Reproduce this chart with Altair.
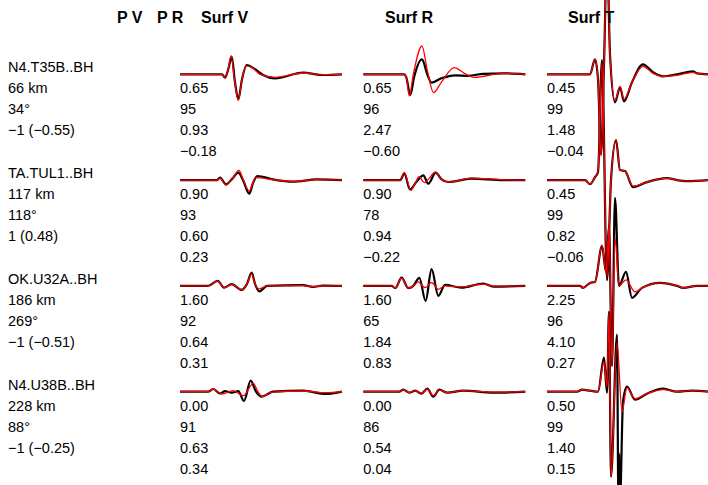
import altair as alt
import pandas as pd

# ---------------- text data ----------------
HEADERS = ["P V", "P R", "Surf V", "Surf R", "Surf T"]
STATIONS = ["N4.T35B..BH", "TA.TUL1..BH", "OK.U32A..BH", "N4.U38B..BH"]
DISTANCES = ["66 km", "117 km", "186 km", "228 km"]
AZIMUTHS = ["34°", "118°", "269°", "88°"]
POLARITIES = ["−1 (−0.55)", "1 (0.48)", "−1 (−0.51)", "−1 (−0.25)"]

# per-window statistics (rows = stations): time shift, cc, amplitude ratio, log amp
SURF_V_SHIFT = [0.65, 0.90, 1.60, 0.00]
SURF_V_CC = [95, 93, 92, 91]
SURF_V_RATIO = [0.93, 0.60, 0.64, 0.63]
SURF_V_LOG = [-0.18, 0.23, 0.31, 0.34]

SURF_R_SHIFT = [0.65, 0.90, 1.60, 0.00]
SURF_R_CC = [96, 78, 65, 86]
SURF_R_RATIO = [2.47, 0.94, 1.84, 0.54]
SURF_R_LOG = [-0.60, -0.22, 0.83, 0.04]

SURF_T_SHIFT = [0.45, 0.45, 2.25, 0.50]
SURF_T_CC = [99, 99, 96, 99]
SURF_T_RATIO = [1.48, 0.82, 4.10, 1.40]
SURF_T_LOG = [-0.04, -0.06, 0.27, 0.15]

# ---------------- waveforms (time, amplitude) ----------------
# station 1
OBS_1_V = [(0,0),(42,0),(45,-3.4),(48,4),(51.7,17.6),(55,-8),(58.3,-25),(62,-5),(66.7,9.3),(75,5),(83,-0.7),(95,-4),(123,1.7),(143,-0.7),(162,0)]
SYN_1_V = [(0,0),(42,0),(45,-3.5),(48,4),(51,18.5),(55,-9),(58.3,-26),(62,-5),(66,8.5),(72,7),(80,0),(95,-3),(123,1.3),(143,-0.3),(162,0)]
OBS_1_R = [(0,0),(41,0),(43,-3),(47,-20.7),(51,-2),(58.7,15),(64,0),(68,-8.3),(78,-4),(92,-1),(105,-1.5),(120,0.5),(140,1),(162,0)]
SYN_1_R = [(0,0),(41,0),(43,-3),(46,-21.7),(50,0),(58.7,28.3),(64,4),(70.3,-18.3),(78,-8),(91,6.6),(101,1),(111,-3),(140,1),(162,0)]
OBS_1_T = [(0,0),(43,0),(48,15),(51,-5),(54,-80),(57,10),(60,120),(63,20),(68,-28),(73,-13),(77,-27),(85,-8),(96,10),(106,2),(116,-2),(130,0),(146,3),(150,1),(161,0)]
SYN_1_T = [(0,0),(43,0),(48,15),(51,-5),(54,-82),(57,10),(60,118),(63,20),(68,-26),(73,-12),(77,-25),(85,-8),(96,8),(106,1),(116,-2),(130,-1),(146,2),(150,1),(161,0)]
# station 2
OBS_2_V = [(0,0),(36.7,0),(40,2.4),(46,-4.3),(52,1),(58.3,7.4),(63,0),(69.3,-13.6),(73,-3),(77.3,4),(93,0.7),(113,-1.6),(137,0.7),(162,0)]
SYN_2_V = [(0,0),(36.7,0),(40,1.7),(46,-5),(52,1),(59,9.7),(63,1),(69.3,-11),(73,-2),(76,2.4),(93,0.5),(113,-1.3),(137,0.5),(162,0)]
OBS_2_R = [(0,0),(37,0),(41,6.7),(46.7,-9.3),(53,-2),(60,4.7),(65,-3.6),(72.4,7.4),(78,1),(85,-1.9),(108,1.4),(140,0),(162,0)]
SYN_2_R = [(0,0),(37,0),(41,7.4),(47.7,-10.3),(52,-3),(55.7,3.4),(61,-2.6),(66,2),(71.7,8),(78,1),(86.7,-1.9),(108,2),(140,0.3),(162,0)]
OBS_2_T = [(0,0),(38,0),(43,-4),(48,3),(51,8),(55,120),(60,-100),(64,0),(69,40),(73,10),(78,9),(86,-7),(100,-2),(120,2),(130,0),(140,-1),(161,0)]
SYN_2_T = [(0,0),(38,0),(43,-4),(48,3),(51,8),(55,118),(60,-98),(64,0),(69,40),(73,10),(78,9),(86,-6),(100,-2),(120,2),(130,0),(140,-1),(161,0)]
# station 3
OBS_3_V = [(0,0),(28,0),(37.7,5),(44,-1.7),(51.7,1.7),(61.7,-4),(67,2),(71.7,13.4),(75,2),(79.3,-5.6),(87,0),(123,0.7),(133,-1),(143,0.3),(162,0)]
SYN_3_V = [(0,0),(28,0),(37.7,4.7),(44,-1.7),(51.7,1.7),(61.7,-4),(67,2),(71.7,11.7),(75,2),(79.3,-3),(87,0),(123,0.3),(133,-0.7),(143,0),(162,0)]
OBS_3_R = [(0,0),(28.3,0),(32,-2.3),(38.3,8.3),(45,-2.3),(50,0),(56,8),(62.3,-15),(68.3,16.7),(75,-10),(81.7,1),(98,-1.7),(120,2.3),(130,-0.7),(162,0)]
SYN_3_R = [(0,0),(28.3,0),(32,-2.3),(38.3,7.7),(45,-2.3),(50,0),(55,4),(61.7,-1.7),(68.3,3.4),(75,-3.4),(81.7,0),(98,-1),(120,1.7),(130,-0.3),(162,0)]
OBS_3_T = [(0,0),(33,0),(36,-2),(43,3),(48,4),(55,40),(59,14),(62,60),(65,-80),(68,88),(72,0),(79,14),(85,-12),(95,-2),(113,3),(130,0),(136,-2),(150,0),(161,0)]
SYN_3_T = [(0,0),(33,0),(36,-2),(43,3),(48,4),(55,41),(59,14),(62,60),(65,-80),(68,48),(72,0),(79,6),(88,-6),(95,-2),(113,3),(130,0),(136,-2),(150,0),(161,0)]
# station 4
OBS_4_V = [(0,0),(28,0),(33.3,2.7),(40,-1.7),(45,0.5),(51.7,-1),(58.3,0.5),(64,-9.3),(70.7,11),(76,0),(81.7,-5),(93,0),(123,1),(146,-2.3),(162,0)]
SYN_4_V = [(0,0),(28,0),(33.3,2.7),(41.7,-2.3),(53.3,1),(63.3,-4),(73.3,8.4),(78,0),(82.7,-5),(90,-0.7),(123,0.7),(146,-1),(162,0)]
OBS_4_R = [(0,0),(36,0),(40,2),(46,-1),(52,1),(58,-2),(64,3),(70,-5),(76,2),(84,-1),(100,1),(130,-1),(162,0)]
SYN_4_R = [(0,0),(36,0),(40,2),(46,-1),(52,1),(58,-1.5),(64,2.5),(70,-4),(76,1.5),(84,-1),(100,1),(130,-0.5),(162,0)]
OBS_4_T = [(0,0),(30,0),(35,2),(43,1),(51,0),(57,34),(60,-1),(62,80),(64,-85),(70,57),(71.4,-110),(72.2,-62),(73,-110),(76,-10),(80,5),(88,-8),(100,-2),(116,3),(130,0),(145,1),(161,0)]
SYN_4_T = [(0,0),(30,0),(35,2),(43,1),(51,0),(57,30),(60,5),(62,80),(64,-85),(70,49),(75,-20),(80,4),(88,-7),(100,-2),(116,2),(130,0),(145,1),(161,0)]

OBS = [[OBS_1_V, OBS_1_R, OBS_1_T], [OBS_2_V, OBS_2_R, OBS_2_T],
       [OBS_3_V, OBS_3_R, OBS_3_T], [OBS_4_V, OBS_4_R, OBS_4_T]]
SYN = [[SYN_1_V, SYN_1_R, SYN_1_T], [SYN_2_V, SYN_2_R, SYN_2_T],
       [SYN_3_V, SYN_3_R, SYN_3_T], [SYN_4_V, SYN_4_R, SYN_4_T]]

# ---------------- layout (record-section coordinates) ----------------
W, H = 708, 485
COL_X = [180, 363.3, 547]          # start of each window
ROW_Y = [74.3, 180.1, 285.9, 391.7]  # trace baselines
LABEL_X = 8
HEADER_X = [117, 157, 201, 385, 568]
HEADER_Y = 18


def fmt(v, dec=2):
    s = f"{v:.{dec}f}" if dec else f"{v:d}"
    return s.replace("-", "−")


lines = []
for kind, src in (("obs", OBS), ("syn", SYN)):
    for r, row in enumerate(src):
        for c, tr in enumerate(row):
            for i, (t, a) in enumerate(tr):
                lines.append({"kind": kind, "trace": f"{kind}-{r}-{c}", "ord": i,
                              "X": COL_X[c] + t, "Y": ROW_Y[r] - a})
ldf = pd.DataFrame(lines)

texts = []
for r in range(4):
    b = ROW_Y[r]
    texts += [
        {"X": LABEL_X, "Y": b - 6, "txt": STATIONS[r]},
        {"X": LABEL_X, "Y": b + 15, "txt": DISTANCES[r]},
        {"X": LABEL_X, "Y": b + 36, "txt": AZIMUTHS[r]},
        {"X": LABEL_X, "Y": b + 57, "txt": POLARITIES[r]},
    ]
    stats = [
        (SURF_V_SHIFT, SURF_V_CC, SURF_V_RATIO, SURF_V_LOG),
        (SURF_R_SHIFT, SURF_R_CC, SURF_R_RATIO, SURF_R_LOG),
        (SURF_T_SHIFT, SURF_T_CC, SURF_T_RATIO, SURF_T_LOG),
    ]
    for c, (sh, cc, ra, lg) in enumerate(stats):
        vals = [fmt(sh[r]), str(cc[r]), fmt(ra[r]), fmt(lg[r])]
        for k, v in enumerate(vals):
            texts.append({"X": COL_X[c], "Y": b + 15 + 21 * k, "txt": v})
tdf = pd.DataFrame(texts)
hdf = pd.DataFrame({"X": HEADER_X, "Y": [HEADER_Y] * 5, "txt": HEADERS})

xs = alt.X("X:Q", scale=alt.Scale(domain=[0, W], nice=False, zero=False), axis=None)
ys = alt.Y("Y:Q", scale=alt.Scale(domain=[H, 0], nice=False, zero=False), axis=None)

obs_layer = alt.Chart(ldf).transform_filter(alt.datum.kind == "obs").mark_line(
    color="black", strokeWidth=2.2, clip=False, strokeJoin="round", interpolate="monotone"
).encode(x=xs, y=ys, detail="trace:N", order="ord:Q")

syn_layer = alt.Chart(ldf).transform_filter(alt.datum.kind == "syn").mark_line(
    color="#ff0000", strokeWidth=1.3, clip=False, strokeJoin="round", interpolate="monotone"
).encode(x=xs, y=ys, detail="trace:N", order="ord:Q")

text_layer = alt.Chart(tdf).mark_text(
    align="left", baseline="middle", font="Liberation Sans", fontSize=14.5, color="black"
).encode(x=xs, y=ys, text="txt:N")

head_layer = alt.Chart(hdf).mark_text(
    align="left", baseline="middle", font="Liberation Sans", fontSize=16,
    fontWeight="bold", color="black"
).encode(x=xs, y=ys, text="txt:N")

chart = alt.layer(obs_layer, syn_layer, text_layer, head_layer).properties(
    width=W, height=H, padding=0, autosize=alt.AutoSizeParams(type="none"),
    background="white"
).configure_view(stroke=None)

chart.save("out.html", embed_options={"renderer": "svg", "actions": False})
